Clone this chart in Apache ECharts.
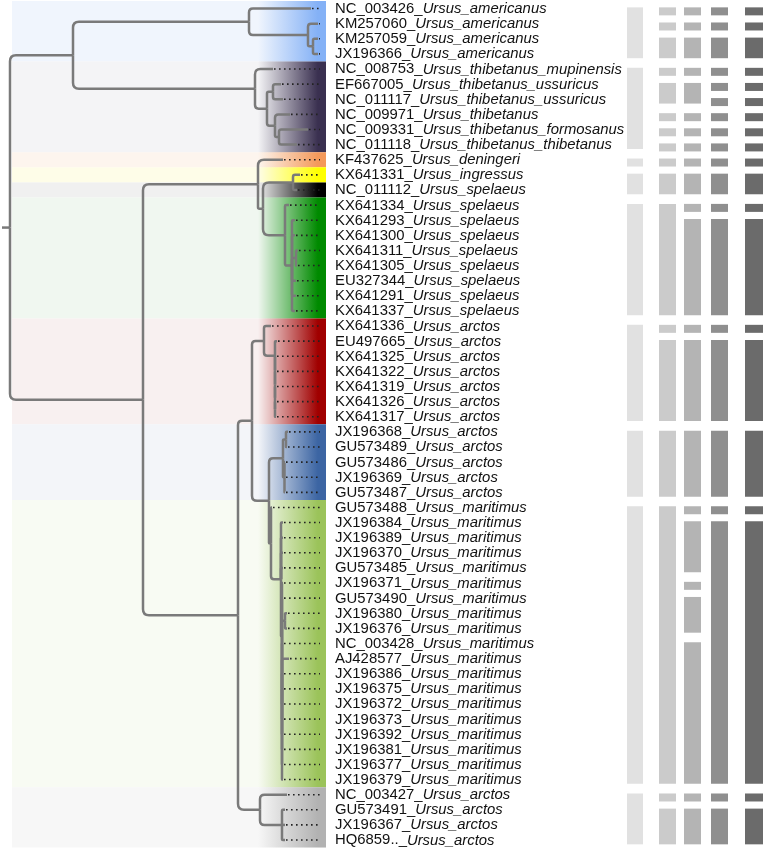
<!DOCTYPE html>
<html>
<head>
<meta charset="utf-8">
<script src="https://cdn.jsdelivr.net/npm/echarts@6/dist/echarts.min.js"></script>
<style>
  html, body { margin: 0; padding: 0; background: #fff; }
  #chart { width: 765px; height: 854px; }
</style>
</head>
<body>
<div id="chart"></div>
<script>
// leaves, top to bottom
const leafIds = ['NC_003426', 'KM257060', 'KM257059', 'JX196366',
  'NC_008753', 'EF667005', 'NC_011117', 'NC_009971', 'NC_009331', 'NC_011118',
  'KF437625', 'KX641331', 'NC_011112',
  'KX641334', 'KX641293', 'KX641300', 'KX641311', 'KX641305', 'EU327344', 'KX641291', 'KX641337',
  'KX641336', 'EU497665', 'KX641325', 'KX641322', 'KX641319', 'KX641326', 'KX641317',
  'JX196368', 'GU573489', 'GU573486', 'JX196369', 'GU573487',
  'GU573488', 'JX196384', 'JX196389', 'JX196370', 'GU573485', 'JX196371', 'GU573490', 'JX196380',
  'JX196376', 'NC_003428', 'AJ428577', 'JX196386', 'JX196375', 'JX196372', 'JX196373', 'JX196392',
  'JX196381', 'JX196377', 'JX196379',
  'NC_003427', 'GU573491', 'JX196367', 'HQ6859..']
const leafSpecies = [
  'Ursus_americanus', 'Ursus_americanus', 'Ursus_americanus', 'Ursus_americanus',
  'Ursus_thibetanus_mupinensis', 'Ursus_thibetanus_ussuricus', 'Ursus_thibetanus_ussuricus',
  'Ursus_thibetanus', 'Ursus_thibetanus_formosanus', 'Ursus_thibetanus_thibetanus',
  'Ursus_deningeri', 'Ursus_ingressus', 'Ursus_spelaeus',
  'Ursus_spelaeus', 'Ursus_spelaeus', 'Ursus_spelaeus', 'Ursus_spelaeus', 'Ursus_spelaeus',
  'Ursus_spelaeus', 'Ursus_spelaeus', 'Ursus_spelaeus',
  'Ursus_arctos', 'Ursus_arctos', 'Ursus_arctos', 'Ursus_arctos', 'Ursus_arctos', 'Ursus_arctos', 'Ursus_arctos',
  'Ursus_arctos', 'Ursus_arctos', 'Ursus_arctos', 'Ursus_arctos', 'Ursus_arctos',
  'Ursus_maritimus', 'Ursus_maritimus', 'Ursus_maritimus', 'Ursus_maritimus', 'Ursus_maritimus',
  'Ursus_maritimus', 'Ursus_maritimus', 'Ursus_maritimus', 'Ursus_maritimus', 'Ursus_maritimus',
  'Ursus_maritimus', 'Ursus_maritimus', 'Ursus_maritimus', 'Ursus_maritimus', 'Ursus_maritimus',
  'Ursus_maritimus', 'Ursus_maritimus', 'Ursus_maritimus', 'Ursus_maritimus',
  'Ursus_arctos', 'Ursus_arctos', 'Ursus_arctos', 'Ursus_arctos']
const leafParent = ['a1', 'a2', 'a3', 'a3',
  't1', 't3', 't3', 't4', 't5', 't5',
  'C', 'E', 'E',
  'F', 'F2', 'F2', 'F3', 'F3', 'F2', 'F2', 'F2',
  'J', 'J2', 'J3', 'J4', 'J5', 'J6', 'J6',
  'L2', 'L2', 'L3', 'L3', 'L3',
  'N', 'M', 'M', 'M', 'M', 'Mb', 'Mc', 'Me', 'Me', 'Mc', 'Mc', 'Mc', 'Mc', 'Mc', 'Mc', 'Mc', 'Mc', 'Mc', 'Mc',
  'I', 'I2', 'I2', 'I2']
// depth where each leaf's solid branch ends
const leafTip = [311, 318, 318, 318,
  273, 281, 283, 290, 308, 297,
  283, 300, 297,
  289, 295, 295, 298, 297, 296, 296, 295,
  271, 277, 276, 276, 276, 276, 276,
  288, 287, 285, 285, 285,
  272, 283, 283, 283, 283, 283, 283, 287, 287, 283, 289, 283, 283, 283, 283, 283, 283, 283, 283,
  287, 285, 285, 285]

// internal nodes
const nodeIds = ['root', 'A', 'a1', 'a2', 'a3', 't1', 't2', 't3', 't4', 't5',
  'B', 'C', 'D', 'E', 'F', 'F2', 'F3',
  'G', 'H', 'J', 'J2', 'J3', 'J4', 'J5', 'J6',
  'K', 'L', 'L2', 'L3', 'N', 'M', 'Mb', 'Mc', 'Me', 'I', 'I2']
const nodeParent = [null, 'root', 'A', 'a1', 'a2', 'A', 't1', 't2', 't2', 't4',
  'root', 'B', 'C', 'D', 'D', 'F', 'F2',
  'B', 'G', 'H', 'J', 'J2', 'J3', 'J4', 'J5',
  'H', 'K', 'L', 'L', 'K', 'N', 'M', 'Mb', 'Mc', 'G', 'I']
const nodeDepth = [10, 73, 249, 308, 313, 255, 267, 273, 275, 279,
  143, 258, 263, 293, 285, 292, 296,
  238, 252, 264, 275, 275, 275, 275, 275,
  269, 283, 286, 284.5, 271, 281, 282, 282, 285, 260, 282]
const rootStub = 2

// coloured clade bands [first row, last row]
const cladeRows = [[1, 4], [5, 10], [11, 11], [12, 12], [13, 13], [14, 21], [22, 28], [29, 33], [34, 52], [53, 56]]
const cladeBand = ['#f0f5fd', '#f4f4f6', '#fdf5ee', '#fefde8', '#f0f0f0', '#f0f7f0', '#f8f0f0', '#f3f5f9', '#f8fbf3', '#f7f7f7']
const cladeStrip = ['#84b1f6', '#3a3050', '#f4995a', '#ffff00', '#000000', '#008a00', '#a00000', '#3c65a3', '#9bc35a', '#b2b2b2']

// grey blocks per column [first row, last row]
const col1Blocks = [[1, 4], [5, 10], [11, 11], [12, 13], [14, 21], [22, 28], [29, 33], [34, 52], [53, 56]]
const col2Blocks = [[1, 1], [2, 2], [3, 4], [5, 5], [6, 7], [8, 8], [9, 9], [10, 10], [11, 11], [12, 13],
  [14, 21], [22, 22], [23, 28], [29, 33], [34, 52], [53, 53], [54, 56]]
const col3Blocks = [[1, 1], [2, 2], [3, 4], [5, 5], [6, 7], [8, 8], [9, 9], [10, 10], [11, 11], [12, 13],
  [14, 14], [15, 21], [22, 22], [23, 28], [29, 33], [34, 34], [35, 38], [39, 39], [40, 42], [43, 52], [53, 53], [54, 56]]
const col4Blocks = [[1, 1], [2, 2], [3, 4], [5, 5], [6, 6], [7, 7], [8, 8], [9, 9], [10, 10], [11, 11], [12, 13],
  [14, 14], [15, 21], [22, 22], [23, 28], [29, 33], [34, 34], [35, 52], [53, 53], [54, 56]]
const col5Blocks = [[1, 1], [2, 2], [3, 4], [5, 5], [6, 6], [7, 7], [8, 8], [9, 9], [10, 10], [11, 11], [12, 13],
  [14, 14], [15, 21], [22, 22], [23, 28], [29, 33], [34, 34], [35, 52], [53, 53], [54, 56]]

// layout
const bandLeft = 12
const stripLeft = 258
const stripRight = 326
const dotEnd = 320
const labelX = 335
const colX = [627, 659, 684, 711, 745]
const colW = [16, 17, 17, 17, 18]
const colColors = ['#e1e1e1', '#cbcbcb', '#b4b4b4', '#8f8f8f', '#6b6b6b']
const branchColor = '#7a7a7a'
const labelFont = 'Liberation Sans, Arial, sans-serif'

// build tree
const nodes = {}
nodeIds.forEach((id, i) => { nodes[id] = { id, depth: nodeDepth[i], parent: nodeParent[i], children: [] } })
leafIds.forEach((id, i) => { nodes['leaf' + i] = { id: 'leaf' + i, depth: leafTip[i], parent: leafParent[i], children: [], row: i + 1 } })
Object.values(nodes).forEach(n => { if (n.parent) nodes[n.parent].children.push(n) })

const layout = (n) => {
  if (!n.children.length) { n.y = n.row; n.minRow = n.row; return }
  n.children.forEach(layout)
  n.children.sort((a, b) => a.minRow - b.minRow)
  n.minRow = n.children[0].minRow
  n.y = (n.children[0].y + n.children[n.children.length - 1].y) / 2
}
layout(nodes.root)

const edges = [[rootStub, nodes.root.y, nodes.root.depth, nodes.root.y]]
Object.values(nodes).forEach(n => {
  if (n.parent) {
    const p = nodes[n.parent]
    edges.push([p.depth, p.y, n.depth, n.y])
  }
})

const dots = leafTip.map((t, i) => [t, i + 1])
const labels = leafIds.map((id, i) => [labelX, i + 1, i])
const bands = cladeRows.map((r, i) => [r[0], r[1], i])
const blocks = []
;[col1Blocks, col2Blocks, col3Blocks, col4Blocks, col5Blocks].forEach((list, c) => {
  list.forEach(b => blocks.push([c, b[0], b[1]]))
})

const rgba = (hex, a) => {
  const v = parseInt(hex.slice(1), 16)
  return `rgba(${(v >> 16) & 255},${(v >> 8) & 255},${v & 255},${a})`
}

const chart = echarts.init(document.getElementById('chart'), null, { renderer: 'canvas' })
chart.setOption({
  animation: false,
  grid: { left: 0, top: 1, width: 765, height: 846.6 },
  xAxis: { type: 'value', min: 0, max: 765, show: false },
  yAxis: { type: 'value', min: 0.5, max: 56.5, inverse: true, show: false },
  series: [
    {
      // background bands
      type: 'custom',
      data: bands,
      z: 1,
      renderItem: (params, api) => {
        const i = api.value(2)
        const p0 = api.coord([bandLeft, api.value(0) - 0.5])
        const p1 = api.coord([stripRight, api.value(1) + 0.5])
        return { type: 'rect', shape: { x: p0[0], y: p0[1], width: p1[0] - p0[0], height: p1[1] - p0[1] }, style: { fill: cladeBand[i] } }
      }
    },
    {
      // gradient strips
      type: 'custom',
      data: bands,
      z: 2,
      renderItem: (params, api) => {
        const i = api.value(2)
        const p0 = api.coord([stripLeft, api.value(0) - 0.5])
        const p1 = api.coord([stripRight, api.value(1) + 0.5])
        const c = cladeStrip[i]
        return {
          type: 'rect',
          shape: { x: p0[0], y: p0[1], width: p1[0] - p0[0], height: p1[1] - p0[1] },
          style: {
            fill: new echarts.graphic.LinearGradient(0, 0, 1, 0, [
              { offset: 0, color: rgba(c, 0) },
              { offset: 0.88, color: rgba(c, 1) },
              { offset: 1, color: rgba(c, 1) }
            ])
          }
        }
      }
    },
    {
      // branches
      type: 'custom',
      data: edges,
      z: 3,
      renderItem: (params, api) => {
        const p = api.coord([api.value(0), api.value(1)])
        const c = api.coord([api.value(2), api.value(3)])
        const dy = c[1] - p[1]
        const dx = c[0] - p[0]
        let d
        if (Math.abs(dy) < 0.5) {
          d = `M${p[0]},${c[1]}L${c[0]},${c[1]}`
        } else {
          const r = Math.max(0, Math.min(6, Math.abs(dy) * 0.3, dx * 0.3))
          const s = Math.sign(dy)
          d = `M${p[0]},${p[1]}L${p[0]},${c[1] - s * r}Q${p[0]},${c[1]} ${p[0] + r},${c[1]}L${c[0]},${c[1]}`
        }
        return { type: 'path', shape: { pathData: d }, style: { stroke: branchColor, lineWidth: 2.5, fill: 'none', lineCap: 'butt' } }
      }
    },
    {
      // dotted leaf extensions
      type: 'custom',
      data: dots,
      z: 4,
      renderItem: (params, api) => {
        const p0 = api.coord([api.value(0) + 1, api.value(1)])
        const p1 = api.coord([dotEnd, api.value(1)])
        if (p1[0] <= p0[0]) return null
        return { type: 'line', shape: { x1: p0[0], y1: p0[1], x2: p1[0], y2: p1[1] }, style: { stroke: '#222', lineWidth: 1.6, lineDash: [1.6, 3.4] } }
      }
    },
    {
      // leaf labels
      type: 'custom',
      data: labels,
      z: 5,
      renderItem: (params, api) => {
        const i = api.value(2)
        const p = api.coord([api.value(0), api.value(1)])
        return {
          type: 'text',
          x: p[0],
          y: p[1] + 0.5,
          scaleX: 1.04,
          originX: 0,
          originY: 0,
          style: {
            text: `{a|${leafIds[i]}_}{b|${leafSpecies[i]}}`,
            rich: {
              a: { fontSize: 14.3, fontFamily: labelFont, fill: '#111' },
              b: { fontSize: 14.3, fontFamily: labelFont, fontStyle: 'italic', fill: '#111' }
            },
            fontSize: 14.3,
            fontFamily: labelFont,
            fill: '#111',
            align: 'left',
            verticalAlign: 'middle'
          }
        }
      }
    },
    {
      // grey presence blocks
      type: 'custom',
      data: blocks,
      z: 5,
      renderItem: (params, api) => {
        const c = api.value(0)
        const a = api.value(1)
        const b = api.value(2)
        const top = api.coord([colX[c], a])[1] + 2.8 - 4
        const bottom = api.coord([colX[c], b])[1] + 2.8 + (a === b ? 4 : 1.5)
        return { type: 'rect', shape: { x: colX[c], y: top, width: colW[c], height: bottom - top }, style: { fill: colColors[c] } }
      }
    }
  ]
})
</script>
</body>
</html>
